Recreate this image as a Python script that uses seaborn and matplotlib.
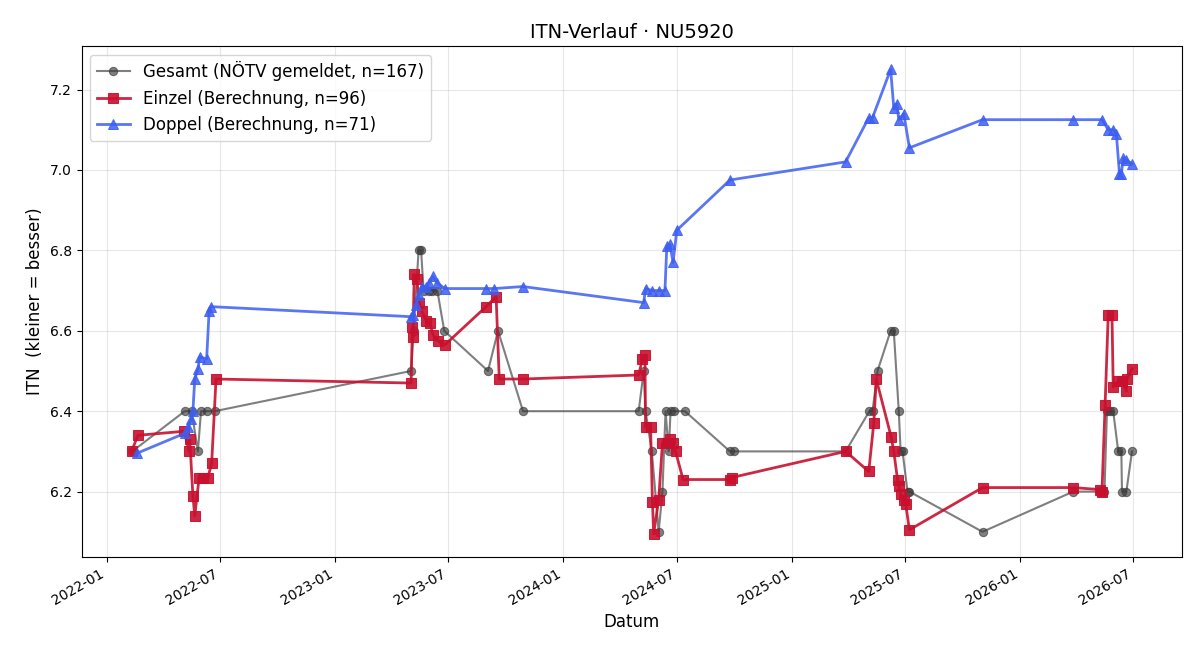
import pandas as pd
import numpy as np
import matplotlib.pyplot as plt
import matplotlib.dates as mdates
import seaborn as sns

# Gesamt (NÖTV gemeldet)
gesamt_datum = ["2022-02-11", "2022-05-06", "2022-05-17", "2022-05-27", "2022-06-01", "2022-06-10", "2022-06-23",
                "2023-05-03", "2023-05-07", "2023-05-15", "2023-05-19", "2023-05-23", "2023-05-31", "2023-06-06",
                "2023-06-14", "2023-06-25", "2023-09-03", "2023-09-19", "2023-10-29",
                "2024-05-01", "2024-05-09", "2024-05-12", "2024-05-22", "2024-06-02", "2024-06-08", "2024-06-13",
                "2024-06-18", "2024-06-21", "2024-06-26", "2024-07-14", "2024-09-24", "2024-09-30",
                "2025-03-28", "2025-05-05", "2025-05-10", "2025-05-18", "2025-06-08", "2025-06-13", "2025-06-21",
                "2025-06-24", "2025-06-27", "2025-07-05", "2025-07-08", "2025-11-02",
                "2026-03-27", "2026-05-09", "2026-05-16", "2026-05-20", "2026-05-25", "2026-05-30", "2026-06-07",
                "2026-06-12", "2026-06-13", "2026-06-20", "2026-06-29"]
gesamt_itn = [6.3, 6.4, 6.4, 6.3, 6.4, 6.4, 6.4,
              6.5, 6.6, 6.8, 6.8, 6.7, 6.7, 6.7,
              6.7, 6.6, 6.5, 6.6, 6.4,
              6.4, 6.5, 6.4, 6.3, 6.1, 6.2, 6.4,
              6.3, 6.4, 6.4, 6.4, 6.3, 6.3,
              6.3, 6.4, 6.4, 6.5, 6.6, 6.6, 6.4,
              6.3, 6.3, 6.2, 6.2, 6.1,
              6.2, 6.2, 6.2, 6.4, 6.4, 6.4, 6.3,
              6.3, 6.2, 6.2, 6.3]

# Einzel (Berechnung)
einzel_datum = ["2022-02-10", "2022-02-20", "2022-05-05", "2022-05-13", "2022-05-14", "2022-05-19", "2022-05-22",
                "2022-05-29", "2022-06-04", "2022-06-12", "2022-06-18", "2022-06-25",
                "2023-05-03", "2023-05-05", "2023-05-06", "2023-05-08", "2023-05-12", "2023-05-16", "2023-05-20",
                "2023-05-27", "2023-06-02", "2023-06-07", "2023-06-15", "2023-06-26", "2023-08-31", "2023-09-16",
                "2023-09-21", "2023-10-29",
                "2024-05-01", "2024-05-07", "2024-05-11", "2024-05-12", "2024-05-20", "2024-05-23", "2024-05-25",
                "2024-06-02", "2024-06-08", "2024-06-15", "2024-06-20", "2024-06-25", "2024-06-29", "2024-07-11",
                "2024-09-24", "2024-09-27",
                "2025-03-28", "2025-05-04", "2025-05-12", "2025-05-16", "2025-06-09", "2025-06-13", "2025-06-19",
                "2025-06-21", "2025-06-24", "2025-06-29", "2025-07-02", "2025-07-08", "2025-11-02",
                "2026-03-27", "2026-05-09", "2026-05-12", "2026-05-17", "2026-05-22", "2026-05-28", "2026-05-30",
                "2026-06-07", "2026-06-13", "2026-06-20", "2026-06-21", "2026-06-29"]
einzel_itn = [6.30, 6.34, 6.35, 6.30, 6.33, 6.19, 6.14,
              6.235, 6.235, 6.235, 6.27, 6.48,
              6.47, 6.61, 6.585, 6.74, 6.73, 6.67, 6.65,
              6.625, 6.62, 6.59, 6.575, 6.565, 6.66, 6.685,
              6.48, 6.48,
              6.49, 6.53, 6.54, 6.36, 6.36, 6.175, 6.095,
              6.18, 6.32, 6.32, 6.33, 6.32, 6.30, 6.23,
              6.23, 6.235,
              6.30, 6.25, 6.37, 6.48, 6.335, 6.30, 6.23,
              6.215, 6.195, 6.18, 6.17, 6.105, 6.21,
              6.21, 6.205, 6.20, 6.415, 6.64, 6.64, 6.46,
              6.475, 6.475, 6.45, 6.48, 6.505]

# Doppel (Berechnung)
doppel_datum = ["2022-02-18", "2022-05-06", "2022-05-11", "2022-05-16", "2022-05-19", "2022-05-22", "2022-05-27",
                "2022-05-30", "2022-06-10", "2022-06-14", "2022-06-17",
                "2023-05-03", "2023-05-06", "2023-05-11", "2023-05-16", "2023-05-20", "2023-05-27", "2023-06-01",
                "2023-06-07", "2023-06-13", "2023-06-26", "2023-08-31", "2023-09-13", "2023-10-29",
                "2024-05-09", "2024-05-12", "2024-05-23", "2024-06-02", "2024-06-12", "2024-06-15", "2024-06-20",
                "2024-06-25", "2024-07-01", "2024-09-24",
                "2025-03-28", "2025-05-04", "2025-05-10", "2025-06-08", "2025-06-13", "2025-06-18", "2025-06-21",
                "2025-06-29", "2025-07-08", "2025-11-02",
                "2026-03-27", "2026-05-12", "2026-05-22", "2026-05-30", "2026-06-04", "2026-06-09", "2026-06-12",
                "2026-06-15", "2026-06-20", "2026-06-29"]
doppel_itn = [6.295, 6.345, 6.36, 6.38, 6.40, 6.48, 6.505,
              6.535, 6.53, 6.65, 6.66,
              6.635, 6.64, 6.665, 6.69, 6.71, 6.71, 6.72,
              6.735, 6.72, 6.705, 6.705, 6.705, 6.71,
              6.67, 6.705, 6.70, 6.70, 6.70, 6.81, 6.815,
              6.77, 6.85, 6.975,
              7.02, 7.13, 7.13, 7.25, 7.155, 7.165, 7.125,
              7.14, 7.055, 7.125,
              7.125, 7.125, 7.10, 7.10, 7.09, 6.99, 6.99,
              7.03, 7.025, 7.015]

fig, ax = plt.subplots(figsize=(12, 6.6), dpi=100)

sns.lineplot(x=pd.to_datetime(gesamt_datum), y=gesamt_itn, ax=ax, estimator=None, sort=False,
             color="#3a3a3a", alpha=0.65, marker="o", markersize=6, linewidth=1.5,
             markeredgecolor="#3a3a3a", label="Gesamt (NÖTV gemeldet, n=167)")
sns.lineplot(x=pd.to_datetime(einzel_datum), y=einzel_itn, ax=ax, estimator=None, sort=False,
             color="#c8102e", alpha=0.9, marker="s", markersize=7, linewidth=2,
             markeredgecolor="#c8102e", label="Einzel (Berechnung, n=96)")
sns.lineplot(x=pd.to_datetime(doppel_datum), y=doppel_itn, ax=ax, estimator=None, sort=False,
             color="#3d5ef0", alpha=0.85, marker="^", markersize=7, linewidth=2,
             markeredgecolor="#3d5ef0", label="Doppel (Berechnung, n=71)")

ax.xaxis.set_major_locator(mdates.MonthLocator(bymonth=[1, 7]))
ax.xaxis.set_major_formatter(mdates.DateFormatter("%Y-%m"))
ax.grid(True, alpha=0.3)
ax.set_title("ITN-Verlauf · NU5920", fontsize=14)
ax.set_xlabel("Datum", fontsize=12)
ax.set_ylabel("ITN  (kleiner = besser)", fontsize=12)
ax.legend(loc="upper left", fontsize=12)
fig.autofmt_xdate()
plt.subplots_adjust(left=0.068, right=0.985, top=0.930, bottom=0.156)
plt.savefig("out.png")
